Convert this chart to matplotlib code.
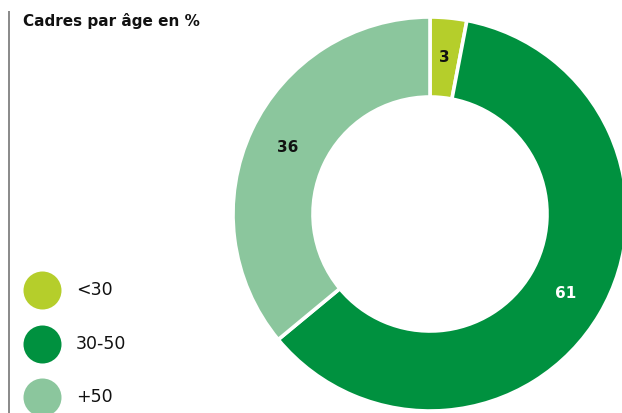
import matplotlib
matplotlib.use("Agg")
import matplotlib.pyplot as plt
import numpy as np

plt.rcParams['font.family'] = ['DejaVu Sans']

# data
labels = ['<30', '30-50', '+50']
values = [3, 61, 36]
colors = ['#b5ce2b', '#00913f', '#8bc69d']
value_colors = ['#111111', 'white', '#111111']
title = 'Cadres par âge en %'

W, H = 622, 413
fig = plt.figure(figsize=(W / 100, H / 100), dpi=100)
ax = fig.add_axes([0, 0, 1, 1])

# donut
cx, cy, R = 430, H - 214, 197
width = 80
wedges, _ = ax.pie(values, colors=colors, startangle=90, counterclock=False,
                   center=(cx, cy), radius=R, frame=True,
                   wedgeprops=dict(width=width, edgecolor='white', linewidth=2.6,
                                   joinstyle='round'))
ax.set_xlim(0, W)
ax.set_ylim(0, H)
ax.set_aspect('equal')
ax.axis('off')

rmid = R - width / 2
for w, v, tc in zip(wedges, values, value_colors):
    ang = np.deg2rad((w.theta1 + w.theta2) / 2)
    ax.text(cx + rmid * np.cos(ang), cy + rmid * np.sin(ang), str(v),
            ha='center', va='center', fontsize=11, fontweight='bold', color=tc)

# title and left rule
ax.plot([9, 9], [0, H - 11], color='#808080', lw=1.3, solid_capstyle='butt')
ax.text(23, H - 21, title, ha='left', va='center', fontsize=11,
        fontweight='bold', color='#111111')

# legend
ys = [290, 344, 397]
for lab, c, y in zip(labels, colors, ys):
    ax.scatter([42], [H - y], s=(2 * 19 * 0.72) ** 2, color=c, linewidths=0)
    ax.text(76, H - y, lab, ha='left', va='center', fontsize=12.5, color='#111111')

fig.savefig('out.png', dpi=100)
